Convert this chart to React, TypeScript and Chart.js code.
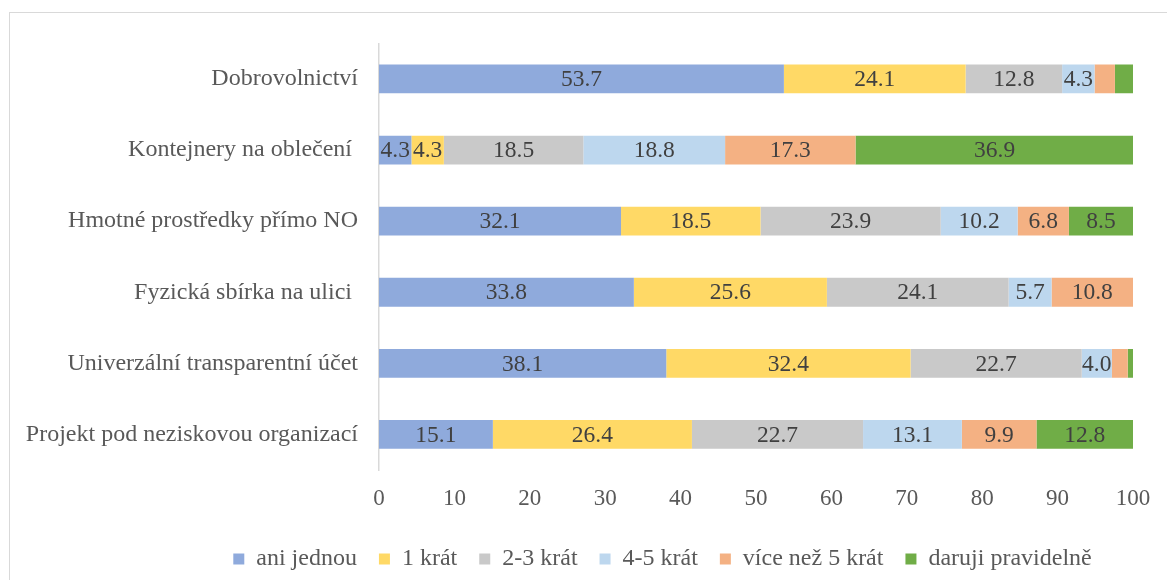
import React, { useEffect, useRef } from "react";
import { Chart, registerables } from "chart.js";

Chart.register(...registerables);

const categories = [
  "Dobrovolnictví",
  "Kontejnery na oblečení ",
  "Hmotné prostředky přímo NO",
  "Fyzická sbírka na ulici ",
  "Univerzální transparentní účet",
  "Projekt pod neziskovou organizací",
];

const seriesNames = [
  "ani jednou",
  "1 krát",
  "2-3 krát",
  "4-5 krát",
  "více než 5 krát",
  "daruji pravidelně",
];

const aniJednou = [53.7, 4.3, 32.1, 33.8, 38.1, 15.1];
const jednouKrat = [24.1, 4.3, 18.5, 25.6, 32.4, 26.4];
const dvaTriKrat = [12.8, 18.5, 23.9, 24.1, 22.7, 22.7];
const ctyriPetKrat = [4.3, 18.8, 10.2, 5.7, 4.0, 13.1];
const viceNezPet = [2.7, 17.3, 6.8, 10.8, 2.1, 9.9];
const pravidelne = [2.4, 36.9, 8.5, 0, 0.7, 12.8];

const seriesValues = [aniJednou, jednouKrat, dvaTriKrat, ctyriPetKrat, viceNezPet, pravidelne];
const seriesColors = ["#8FAADC", "#FFD966", "#C9C9C9", "#BDD7EE", "#F4B183", "#70AD47"];

const xTicks = [0, 10, 20, 30, 40, 50, 60, 70, 80, 90, 100];

const FONT = "'Liberation Serif', 'Times New Roman', serif";

// Writes each segment's value in the middle of the segment (small slivers stay unlabeled).
const segmentLabels = {
  id: "segmentLabels",
  afterDatasetsDraw(chart: any) {
    const { ctx } = chart;
    ctx.save();
    ctx.font = `23.5px ${FONT}`;
    ctx.fillStyle = "#404040";
    ctx.textAlign = "center";
    ctx.textBaseline = "middle";
    chart.data.datasets.forEach((ds: any, di: number) => {
      const meta = chart.getDatasetMeta(di);
      meta.data.forEach((bar: any, i: number) => {
        const v = ds.data[i] as number;
        if (v < 3.5) return;
        const { x, base, y } = bar.getProps(["x", "base", "y"], true);
        ctx.fillText(v.toFixed(1), (x + base) / 2, y + 1);
      });
    });
    ctx.restore();
  },
};

// The legend row sits a little right of the canvas centre, under the bars.
const LEGEND_SHIFT = 92;
const legendShift = {
  id: "legendShift",
  afterLayout(chart: any) {
    const lg = chart.legend;
    if (!lg) return;
    lg.left += LEGEND_SHIFT;
    lg.right += LEGEND_SHIFT;
  },
};

export default function App() {
  const canvasRef = useRef<HTMLCanvasElement | null>(null);

  useEffect(() => {
    if (!canvasRef.current) return;
    const chart = new Chart(canvasRef.current, {
      type: "bar",
      data: {
        labels: categories,
        datasets: seriesNames.map((name, i) => ({
          label: name,
          data: seriesValues[i],
          backgroundColor: seriesColors[i],
          borderWidth: 0,
          categoryPercentage: 1,
          barPercentage: 0.405,
        })),
      },
      options: {
        indexAxis: "y",
        responsive: false,
        animation: false,
        layout: { padding: { left: 0, right: 34, top: 32.5, bottom: 17 } },
        plugins: {
          tooltip: { enabled: false },
          legend: {
            position: "bottom",
            labels: {
              font: { family: FONT, size: 24 },
              color: "#595959",
              boxWidth: 11,
              boxHeight: 11,
              padding: 22,
            },
          },
        },
        scales: {
          x: {
            stacked: true,
            min: 0,
            max: 100,
            afterBuildTicks: (scale: any) => {
              scale.ticks = xTicks.map((v) => ({ value: v }));
            },
            afterFit: (scale: any) => {
              scale.height = 55;
            },
            grid: { display: false, drawTicks: false },
            border: { display: false },
            ticks: {
              font: { family: FONT, size: 23 },
              color: "#595959",
              padding: 15,
              maxRotation: 0,
            },
          },
          y: {
            stacked: true,
            afterFit: (scale: any) => {
              scale.width = 371;
            },
            grid: { display: false, drawTicks: false },
            border: { display: true, color: "#D9D9D9", width: 1.5 },
            ticks: {
              font: { family: FONT, size: 24 },
              color: "#595959",
              padding: 21,
            },
          },
        },
      },
      plugins: [segmentLabels, legendShift],
    });
    return () => chart.destroy();
  }, []);

  return (
    <div
      style={{
        position: "fixed",
        left: 8,
        top: 8,
        width: 1159,
        height: 572,
        overflow: "hidden",
        background: "#FFFFFF",
      }}
    >
      <div
        style={{
          position: "absolute",
          left: 1,
          top: 4,
          width: 1300,
          height: 800,
          border: "1.5px solid #D9D9D9",
          pointerEvents: "none",
        }}
      />
      <canvas ref={canvasRef} width={1159} height={590} style={{ position: "absolute", left: 0, top: 0 }} />
    </div>
  );
}
